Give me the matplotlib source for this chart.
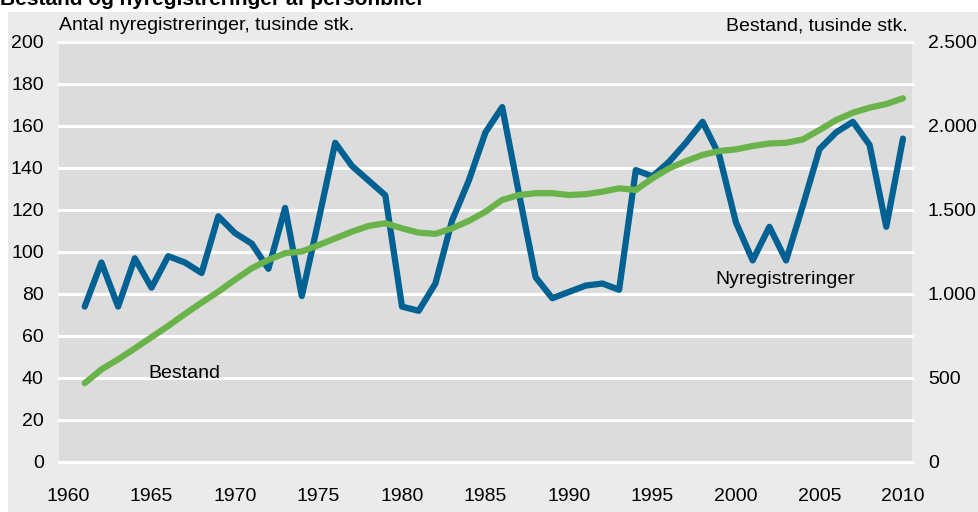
import numpy as np
import matplotlib.pyplot as plt
from matplotlib.patches import Rectangle

# årstal og serier
years = list(range(1961, 2011))

# nyregistreringer, tusinde stk. (venstre akse)
nyregistreringer = [74, 95, 74, 97, 83, 98, 95, 90, 117, 109,
                    104, 92, 121, 79, 115, 152, 141, 134, 127, 74,
                    72, 85, 115, 134, 157, 169, 128, 88, 78, 81,
                    84, 85, 82, 139, 136, 143, 152, 162, 146, 114,
                    96, 112, 96, 122, 149, 157, 162, 151, 112, 154]

# bestand, tusinde stk. (højre akse)
bestand = [469, 551, 611, 676, 743, 810, 881, 949, 1014, 1085,
           1153, 1203, 1243, 1253, 1291, 1331, 1371, 1405, 1421, 1391,
           1365, 1358, 1391, 1435, 1490, 1560, 1589, 1600, 1600, 1589,
           1594, 1609, 1629, 1619, 1689, 1748, 1791, 1828, 1851, 1861,
           1881, 1896, 1900, 1920, 1976, 2036, 2079, 2109, 2131, 2165]

left_ticks = [0, 20, 40, 60, 80, 100, 120, 140, 160, 180, 200]
right_ticks = [0, 500, 1000, 1500, 2000, 2500]
right_labels = ['0', '500', '1.000', '1.500', '2.000', '2.500']
x_ticks = [1960, 1965, 1970, 1975, 1980, 1985, 1990, 1995, 2000, 2005, 2010]

plt.rcParams['font.family'] = ['Liberation Sans', 'DejaVu Sans']
fs = 14

W, H = 979, 512
fig = plt.figure(figsize=(W / 100, H / 100), dpi=100, facecolor='white')

# grå baggrund
fig.patches.append(Rectangle((8 / W, 0), 1, (H - 12) / H, transform=fig.transFigure,
                             facecolor='#ebebeb', edgecolor='none', zorder=-10))

# titel (delvist afskåret i toppen, som i originalen)
fig.text(0, 1 - 5 / H, 'Bestand og nyregistreringer af personbiler', fontsize=15,
         fontweight='bold', va='baseline', ha='left')

ax = fig.add_axes([59 / W, 50 / H, (912 - 59) / W, 420 / H])
ax.set_facecolor('#dcdcdc')
ax.set_xlim(1959.46, 2010.54)
ax.set_ylim(0, 200)
for s in ax.spines.values():
    s.set_visible(False)

for t in left_ticks:
    ax.axhline(t, color='white', lw=2.2, zorder=1, clip_on=False)

ax2 = ax.twinx()
ax2.set_ylim(0, 2500)
for s in ax2.spines.values():
    s.set_visible(False)

ax.plot(years, nyregistreringer, color='#006192', lw=4.5, zorder=3,
        solid_joinstyle='round', solid_capstyle='round')
ax2.plot(years, bestand, color='#6ab24a', lw=4.5, zorder=4,
         solid_joinstyle='round', solid_capstyle='round')

ax.set_xticks(x_ticks)
ax.set_xticklabels([str(x) for x in x_ticks], fontsize=fs)
ax.set_yticks(left_ticks)
ax.set_yticklabels([str(v) for v in left_ticks], fontsize=fs)
ax.tick_params(axis='both', length=0)
ax.tick_params(axis='x', pad=19)
ax.tick_params(axis='y', pad=11)

ax2.set_yticks(right_ticks)
ax2.set_yticklabels(right_labels, fontsize=fs)
ax2.tick_params(axis='y', length=0, pad=11.5)

ax.text(0.0, 1 + 12 / 420, 'Antal nyregistreringer, tusinde stk.', transform=ax.transAxes,
        fontsize=fs, ha='left', va='baseline')
ax.text(0.995, 1 + 12 / 420, 'Bestand, tusinde stk.', transform=ax.transAxes,
        fontsize=fs, ha='right', va='baseline')

ax.text(1964.8, 40, 'Bestand', fontsize=fs, ha='left', va='baseline', zorder=5)
ax.text(1998.75, 85, 'Nyregistreringer', fontsize=fs, ha='left', va='baseline', zorder=5)

fig.savefig('out.png', dpi=100, facecolor=fig.get_facecolor())
